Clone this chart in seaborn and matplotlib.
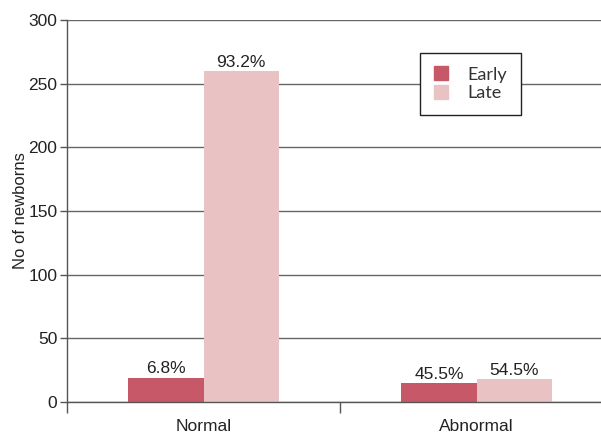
import matplotlib
matplotlib.use("Agg")
import matplotlib.pyplot as plt
import seaborn as sns
import pandas as pd
from matplotlib.ticker import FixedLocator

# Newborn counts by screening result and timing
categories = ["Normal", "Abnormal"]
groups = ["Early", "Late"]
early_counts = [19, 15]
late_counts = [260, 18]
colors = {"Early": "#C75868", "Late": "#E9C3C4"}
y_ticks = [0, 50, 100, 150, 200, 250, 300]

sns.set_theme(style="white")
plt.rcParams["font.family"] = ["Liberation Sans", "DejaVu Sans"]

df = pd.DataFrame({
    "result": categories * 2,
    "timing": ["Early"] * 2 + ["Late"] * 2,
    "count": early_counts + late_counts,
})
totals = df.groupby("result")["count"].transform("sum")
df["pct"] = df["count"] / totals * 100

fig = plt.figure(figsize=(6.01, 4.37), dpi=100)
W, H = 601, 437
ax = fig.add_axes([67 / W, (H - 402) / H, (W - 67) / W, 382 / H])

sns.barplot(data=df, x="result", y="count", hue="timing", order=categories,
            hue_order=groups, palette=colors, width=0.55, saturation=1,
            ax=ax, legend=False, linewidth=0)

ax.set_ylim(0, 300)
ax.set_xlim(-0.5, 1.456)
ax.set_yticks(y_ticks)
ax.yaxis.grid(True, color="#666666", linewidth=1.0)
ax.set_axisbelow(True)

for s in ["top", "right"]:
    ax.spines[s].set_visible(False)
for s in ["left", "bottom"]:
    ax.spines[s].set_color("#555555")
    ax.spines[s].set_linewidth(1.0)

ax.tick_params(axis="y", which="major", left=True, length=5, width=1,
               color="#555555", labelsize=12.5, labelcolor="#222222", pad=2)
ax.tick_params(axis="x", which="major", bottom=False, labelsize=12.5,
               labelcolor="#222222", pad=6)
ax.xaxis.set_minor_locator(FixedLocator([-0.5, 0.5]))
ax.tick_params(axis="x", which="minor", bottom=True, length=8, width=1,
               color="#555555")

ax.set_xlabel("")
ax.set_ylabel("No of newborns", fontsize=12, color="#222222")
ax.yaxis.set_label_coords(-0.073, 0.5)

# Percentage labels above each bar
for container, g in zip(ax.containers, groups):
    sub = df[df["timing"] == g].set_index("result").loc[categories]
    labels = [f"{p:.1f}%" for p in sub["pct"]]
    ax.bar_label(container, labels=labels, padding=1, fontsize=12.5,
                 color="#222222")

handles = [plt.Rectangle((0, 0), 1, 1, color=colors[g]) for g in groups]
leg = ax.legend(handles, groups, loc="upper left",
                bbox_to_anchor=(0.661, 0.914), borderaxespad=0,
                frameon=True, fancybox=False,
                framealpha=1, edgecolor="#222222", handlelength=0.8,
                handleheight=0.8, handletextpad=1.1, borderpad=0.75,
                labelspacing=0.15, prop={"family": "Lato", "size": 13})
leg.get_frame().set_linewidth(1.0)
for t in leg.get_texts():
    t.set_color("#333333")

fig.savefig("out.png", dpi=100)
